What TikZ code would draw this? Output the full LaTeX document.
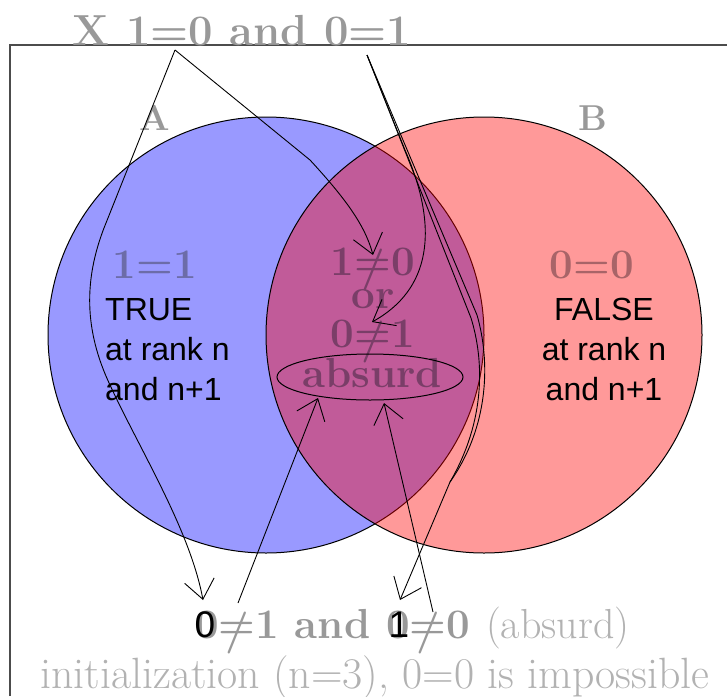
\documentclass[tikz,border=0pt]{standalone}
\usepackage{fontspec}
\newfontfamily\arialf{Liberation Sans}
\usetikzlibrary{arrows.meta,shapes.geometric}
\newcommand{\nq}{\ooalign{=\cr\hidewidth\raisebox{-0.12em}{/}\hidewidth\cr}}
\definecolor{tgray}{gray}{0.6}
\definecolor{lgray}{gray}{0.7}
\definecolor{framec}{gray}{0.3}
\definecolor{agray}{RGB}{108,108,168}
\definecolor{bgray}{RGB}{168,100,104}
\definecolor{cgray}{RGB}{122,62,104}
\begin{document}
\begin{tikzpicture}[x=1pt,y=-1pt,
  gtext/.style={text=tgray,font=\bfseries\fontsize{42}{42}\selectfont,inner sep=0pt},
  letter/.style={text=tgray,font=\bfseries\fontsize{36}{36}\selectfont,inner sep=0pt},
  btext/.style={text=black,font=\arialf\fontsize{32}{40}\selectfont,inner sep=0pt},
  setA/.style={circle,draw=black,line width=1pt,fill=blue,fill opacity=0.4,minimum size=436pt,inner sep=0pt},
  setB/.style={circle,draw=black,line width=1pt,fill=red,fill opacity=0.4,minimum size=436pt,inner sep=0pt},
  conn/.style={draw=black,line width=0.9pt,-{Straight Barb[length=19pt,width=30pt,line width=0.9pt]}},
  plainline/.style={draw=black,line width=0.9pt},
  frame/.style={draw=framec,line width=1.5pt}]
\useasboundingbox (0,0) rectangle (727,696);
\fill[white] (0,0) rectangle (727,696);
% frame
\draw[frame] (10,696) -- (10,45) -- (727,45);
% sets
\node[setA] (A) at (266,335) {};
\node[setB] (B) at (484,335) {};
\node[letter,anchor=base] (la) at (155,130) {A};
\node[letter,anchor=base] (lb) at (593,130) {B};
% texts inside the sets
\node[gtext,text=agray,anchor=base] (one) at (155,278) {1=1};
\node[gtext,text=bgray,anchor=base] (zero) at (592,278) {0=0};
\node[gtext,text=cgray,anchor=base] (neqa) at (373,275) {1\nq0};
\node[gtext,text=cgray,anchor=base] (or) at (373,308) {or};
\node[gtext,text=cgray,anchor=base] (neqb) at (373,347) {0\nq1};
\node[gtext,text=cgray,anchor=base] (abs) at (372,387) {absurd};
% ellipse round absurd
\node[ellipse,draw=black,line width=1pt,minimum width=186pt,minimum height=46pt,inner sep=0pt] (ell) at (370,377) {};
% black texts
\node[btext,anchor=north west,align=left] (true) at (105,298) {TRUE\\at rank n\\and n+1};
\node[btext,anchor=north,align=center] (false) at (604,298) {FALSE\\at rank n\\and n+1};
% title
\node[gtext,anchor=base,font=\bfseries\fontsize{43.5}{43.5}\selectfont] (title) at (242,45) {X 1=0 and 0=1};
% bottom texts
\node[anchor=base west,inner sep=0pt,text=tgray,font=\fontsize{42}{42}\selectfont] (bot) at (195,638) {\bfseries 0\nq1 and 0\nq0 \mdseries\color{lgray}(absurd)};
\node[anchor=base,inner sep=0pt,text=lgray,font=\fontsize{43.8}{43.8}\selectfont] (init) at (375,688) {initialization (n=3), 0=0 is impossible};
\node[anchor=base,inner sep=0pt,text=black,font=\arialf\fontsize{37}{37}\selectfont] (ovz) at (205,637) {0};
\node[anchor=base,inner sep=0pt,text=black,font=\arialf\fontsize{37}{37}\selectfont] (ovo) at (399,637) {1};
% connector ends
\coordinate (p1) at (175,50);
\coordinate (p2) at (367,55);
\coordinate (t1) at (203,600);
\coordinate (t2) at (373,255);
\coordinate (t3) at (372,322);
\coordinate (t4) at (400,600);
\coordinate (s5) at (238,603);
\coordinate (t5) at (318,398);
\coordinate (s6) at (433,612);
\coordinate (t6) at (384,403);
% connectors
\draw[conn] (p1) -- (104,228) .. controls (84,280) and (84,330) .. (110,385) .. controls (140,450) and (190,530) .. (t1);
\draw[conn] (p1) -- (310,160) .. controls (345,198) and (365,225) .. (t2);
\draw[conn] (p2) -- (405,150) .. controls (440,230) and (430,290) .. (t3);
\draw[conn] (p2) -- (471,318) .. controls (484,360) and (486,420) .. (450,482) -- (t4);
\draw[plainline] (p2) -- (477,315) .. controls (490,360) and (490,425) .. (450,482);
\draw[conn] (s5) -- (t5);
\draw[conn] (s6) -- (t6);
\end{tikzpicture}
\end{document}
